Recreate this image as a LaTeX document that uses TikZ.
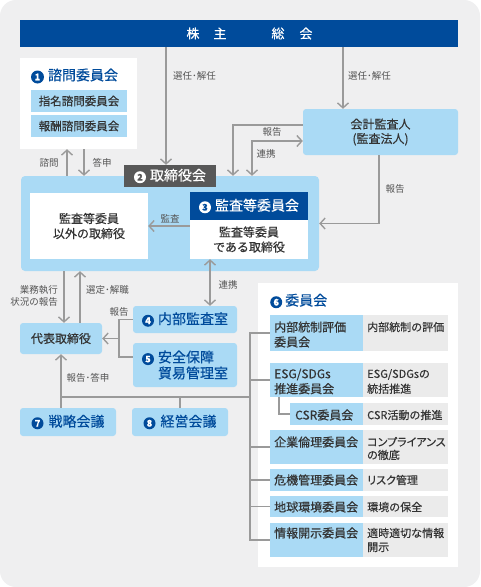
\documentclass[tikz,border=0pt]{standalone}
\usepackage{fontspec}
\setmainfont{Noto Sans CJK JP}
\newfontfamily\medfont{Noto Sans CJK JP}[FakeBold=0.45]
\usetikzlibrary{arrows.meta}
\definecolor{bg}{HTML}{EFEFF0}
\definecolor{dblue}{HTML}{004B9B}
\definecolor{lblue}{HTML}{AADAF5}
\definecolor{gcell}{HTML}{EBEBEB}
\definecolor{gline}{HTML}{9A9A9A}
\definecolor{glabel}{HTML}{555555}
\definecolor{glab2}{HTML}{585858}
\definecolor{tdark}{HTML}{333333}
\newcommand{\cnum}[4][12pt]{\tikz[baseline=(cc.base)]\node[circle,fill=#2,text=#3,inner sep=0pt,minimum size=#1,font=\fontsize{9}{9}\selectfont\bfseries](cc){#4};}
\begin{document}
\begin{tikzpicture}[x=1pt,y=-1pt,
  lbbox/.style={fill=lblue,rounded corners=3pt,inner sep=0pt},
  lbcell/.style={fill=lblue,inner sep=0pt},
  gcellst/.style={fill=gcell,inner sep=0pt},
  wbox/.style={fill=white,inner sep=0pt},
  ln/.style={draw=gline,line width=1.4pt},
  arr/.style={draw=gline,line width=1.4pt,-{Straight Barb[length=5pt,width=11pt]}},
  darr/.style={draw=gline,line width=1.4pt,{Straight Barb[length=5pt,width=11pt]}-{Straight Barb[length=5pt,width=11pt]}},
  lab/.style={inner sep=0pt,font=\fontsize{9.5}{12}\selectfont,text=glabel},
  btext/.style={font=\medfont\fontsize{12}{15}\selectfont,text=tdark,align=center},
  htext/.style={font=\medfont\fontsize{14}{17}\selectfont,text=dblue},
  ctext/.style={inner sep=0pt,align=left,font=\medfont\fontsize{12}{15}\selectfont,text=tdark},
  rtext/.style={inner sep=0pt,align=left,font=\medfont\fontsize{11}{14}\selectfont,text=tdark}]
\useasboundingbox (0,0) rectangle (480,587);
\fill[white] (0,0) rectangle (480,587);
\fill[bg,rounded corners=16pt] (0,0) rectangle (480,587);

% coordinates for connector x positions
\coordinate (x67) at (67,0);
\coordinate (x84) at (84,0);
\coordinate (x166) at (166,0);
\coordinate (x343) at (343,0);
\coordinate (x233) at (233,0);
\coordinate (x252) at (252,0);
\coordinate (x379) at (379,0);
\coordinate (x64) at (64,0);
\coordinate (x80) at (80,0);
\coordinate (x210) at (210,0);
\coordinate (x119) at (119,0);
\coordinate (x279) at (279,0);
\coordinate (trunk) at (250,0);
\coordinate (bus) at (250,397);

% shareholders bar
\node[fill=dblue,inner sep=0pt,minimum width=438pt,minimum height=27pt,text=white,font=\medfont\fontsize{13}{13}\selectfont] (bar) at (239,33.5)
  {\hspace*{21pt}株\hspace{14pt}主\hspace{45pt}総\hspace{15pt}会};

% advisory committee
\node[wbox,minimum width=117pt,minimum height=91pt] (b1) at (78.5,103.5) {};
\node[htext,inner sep=0pt] (b1t) at (74.5,76) {\cnum[13pt]{dblue}{white}{1}\hspace{4pt}諮問委員会};
\node[lbcell,minimum width=96pt,minimum height=22pt,font=\medfont\fontsize{11.5}{12}\selectfont,text=tdark] (s1a) at (79,101) {指名諮問委員会};
\node[lbcell,minimum width=96pt,minimum height=22pt,font=\medfont\fontsize{11.5}{12}\selectfont,text=tdark] (s1b) at (79,126) {報酬諮問委員会};

% board
\node[fill=lblue,rounded corners=4pt,minimum width=298pt,minimum height=95pt] (board) at (170,223.5) {};
\node[fill=glab2,inner sep=0pt,minimum width=92pt,minimum height=22pt,text=white,font=\medfont\fontsize{14}{14}\selectfont] (lab2) at (170,176) {\cnum{white}{glab2}{2}\hspace{4pt}取締役会};
\node[wbox,btext,minimum width=118pt,minimum height=66pt] (wl) at (89,226) {監査等委員\\以外の取締役};
\node[fill=dblue,inner sep=0pt,minimum width=118pt,minimum height=28pt,text=white,font=\medfont\fontsize{14}{14}\selectfont] (h3) at (249,206) {\cnum{white}{dblue}{3}\hspace{4pt}監査等委員会};
\node[wbox,btext,minimum width=118pt,minimum height=39pt] (w3) at (249,239.5) {監査等委員\\である取締役};

% accounting auditor
\node[lbbox,btext,minimum width=155pt,minimum height=46pt,font=\medfont\fontsize{12}{14.5}\selectfont] (aud) at (380.5,132) {会計監査人\\(監査法人)};

% internal audit etc
\node[lbbox,htext,minimum width=104pt,minimum height=27pt] (n4) at (185,319.5) {\cnum{dblue}{white}{4}\hspace{4pt}内部監査室};
\node[lbbox,htext,align=left,minimum width=104pt,minimum height=44pt,font=\medfont\fontsize{14}{16}\selectfont] (n5) at (185,365) {\cnum{dblue}{white}{5}\hspace{4pt}安全保障\\\hspace*{16pt}貿易管理室};
\node[lbbox,minimum width=82pt,minimum height=31pt,font=\medfont\fontsize{12}{12}\selectfont,text=tdark] (rep) at (61,338.5) {代表取締役};
\node[lbbox,htext,minimum width=96pt,minimum height=28pt] (n7) at (68,422) {\cnum{dblue}{white}{7}\hspace{5pt}戦略会議};
\node[lbbox,htext,minimum width=96pt,minimum height=28pt] (n8) at (180,422) {\cnum{dblue}{white}{8}\hspace{5pt}経営会議};

% committee panel
\node[wbox,minimum width=200pt,minimum height=284pt] (panel) at (358,425) {};
\node[htext,inner sep=0pt,anchor=west] (p6) at (270,301) {\cnum{dblue}{white}{6}\hspace{3pt}委員会};

\node[lbcell,minimum width=93pt,minimum height=36pt] (r1L) at (316.5,333) {};
\node[gcellst,minimum width=85pt,minimum height=36pt] (r1R) at (405.5,333) {};
\node[lbcell,minimum width=93pt,minimum height=34pt] (r2L) at (316.5,380) {};
\node[gcellst,minimum width=85pt,minimum height=34pt] (r2R) at (405.5,380) {};
\node[lbcell,minimum width=73pt,minimum height=22pt] (r3L) at (326.5,414) {};
\node[gcellst,minimum width=85pt,minimum height=22pt] (r3R) at (405.5,414) {};
\node[lbcell,minimum width=93pt,minimum height=34pt] (r4L) at (316.5,447) {};
\node[gcellst,minimum width=85pt,minimum height=34pt] (r4R) at (405.5,447) {};
\node[lbcell,minimum width=93pt,minimum height=22pt] (r5L) at (316.5,480) {};
\node[gcellst,minimum width=85pt,minimum height=22pt] (r5R) at (405.5,480) {};
\node[lbcell,minimum width=93pt,minimum height=21pt] (r6L) at (316.5,506.5) {};
\node[gcellst,minimum width=85pt,minimum height=21pt] (r6R) at (405.5,506.5) {};
\node[lbcell,minimum width=93pt,minimum height=34pt] (r7L) at (316.5,540) {};
\node[gcellst,minimum width=85pt,minimum height=34pt] (r7R) at (405.5,540) {};

\node[ctext,anchor=west] (t1L) at (274,334.5) {内部統制評価\\委員会};
\node[rtext,anchor=west] (t1R) at (367,327) {内部統制の評価};
\node[ctext,anchor=west] (t2L) at (274,381.5) {ESG/SDGs\\推進委員会};
\node[rtext,anchor=west,font=\medfont\fontsize{11}{15}\selectfont] (t2R) at (367,381.5) {ESG/SDGsの\\統括推進};
\node[ctext,anchor=west] (t3L) at (295,415) {CSR委員会};
\node[rtext,anchor=west] (t3R) at (367,415) {CSR活動の推進};
\node[ctext,anchor=west] (t4L) at (274,442) {企業倫理委員会};
\node[rtext,anchor=west,font=\medfont\fontsize{11}{13}\selectfont\addfontfeatures{RawFeature=+palt}] (t4R) at (367,448.5) {コンプライアンス\\の徹底};
\node[ctext,anchor=west] (t5L) at (274,480) {危機管理委員会};
\node[rtext,anchor=west,font=\medfont\fontsize{11}{14}\selectfont\addfontfeatures{RawFeature=+palt}] (t5R) at (367,480) {リスク管理};
\node[ctext,anchor=west] (t6L) at (274,507) {地球環境委員会};
\node[rtext,anchor=west] (t6R) at (367,507) {環境の保全};
\node[ctext,anchor=west] (t7L) at (274,533) {情報開示委員会};
\node[rtext,anchor=west] (t7R) at (367,540) {適時適切な情報\\開示};

% connectors: top
\draw[arr] (bar.south -| x166) -- (lab2.north -| x166);
\draw[arr] (bar.south -| x343) -- (aud.north -| x343);
\draw[arr] (board.north -| x67) -- (b1.south -| x67);
\draw[arr] (b1.south -| x84) -- (board.north -| x84);
\draw[arr] ([yshift=7pt]aud.west) -| (board.north -| x233);
\draw[darr] (board.north -| x252) |- ([yshift=-9pt]aud.west);
\draw[arr] (aud.south -| x379) |- (board.east);
\draw[arr] (wl.east -| w3.west) -- (wl.east);

% board to representative
\draw[arr] (board.south -| x64) -- (rep.north -| x64);
\draw[arr] (rep.north -| x80) -- (board.south -| x80);
\draw[darr] (w3.south -| x210) -- (n4.north -| x210);

% reports from 4,5
\draw[ln] (n4.west) -- (n4.west -| x119) -- ([yshift=8pt]n5.west -| x119) -- ([yshift=8pt]n5.west);
\draw[arr] (rep.east -| x119) -- (rep.east);

% bus
\draw[arr] (rep.south |- bus) -- (rep.south);
\draw[ln] (rep.south |- n7.north) -- (rep.south |- bus) -- (bus);
\draw[ln] (n8.north) -- (n8.north |- bus);

% trunk to committees
\draw[ln] (r1L.west) -- (r1L.west -| trunk) -- (r7L.west -| trunk) -- (r7L.west);
\draw[ln] (r2L.west -| trunk) -- (r2L.west);
\draw[ln] (r4L.west -| trunk) -- (r4L.west);
\draw[ln] (r5L.west -| trunk) -- (r5L.west);
\draw[ln] (r6L.west -| trunk) -- (r6L.west);
\draw[ln] (r2L.south -| x279) |- (r3L.west);

% labels
\node[lab] (l1) at (49,163) {諮問};
\node[lab] (l2) at (102,163) {答申};
\node[lab,anchor=west] (l3) at (173,76) {選任･解任};
\node[lab,anchor=west] (l4) at (348,76) {選任･解任};
\node[lab] (l5) at (272,132) {報告};
\node[lab] (l6) at (266,154) {連携};
\node[lab] (l7) at (395,189) {報告};
\node[lab] (l8) at (170,219) {監査};
\node[lab,anchor=east,align=right] (l9) at (58,296) {業務執行\\状況の報告};
\node[lab,anchor=west] (l10) at (86,290) {選定･解職};
\node[lab] (l11) at (228,285) {連携};
\node[lab] (l12) at (119,312) {報告};
\node[lab] (l13) at (88,378) {報告･答申};
\end{tikzpicture}
\end{document}
